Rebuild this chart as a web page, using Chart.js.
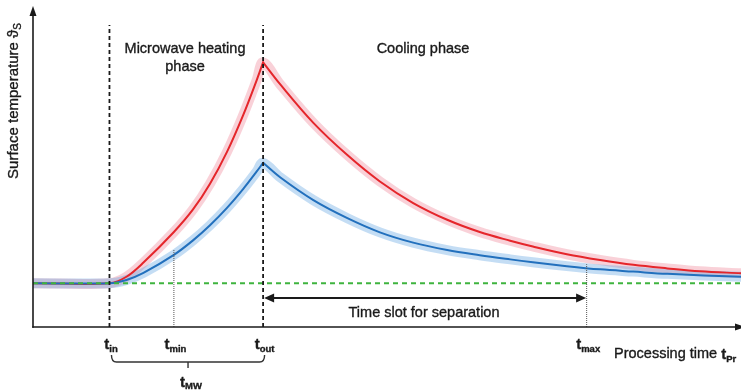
<!DOCTYPE html>
<html><head><meta charset="utf-8">
<script src="https://cdn.jsdelivr.net/npm/chart.js@4/dist/chart.umd.min.js"></script>
<style>html,body{margin:0;padding:0;background:#fff}#wrap{width:741px;height:391px;position:relative}</style>
</head><body><div id="wrap"><canvas id="c"></canvas></div>
<script>
// ---- data (arbitrary time / temperature units) ----
const tIn = 10.8, tMin = 19.9, tOut = 32.5, tMax = 78.2;
const baseline = 13.6;
const topOfMarkers = 93.8;
const arrowLevel = 9.0;

const redHeatX  = [0, 10.8, 13.2, 15.6, 19.9, 22.6, 25.0, 27.4, 29.7, 31.6, 32.5];
const redHeatY  = [13.6, 13.6, 15.6, 20.0, 29.5, 36.5, 44.5, 54.4, 65.9, 76.7, 82.2];
const redCoolX  = [32.5, 34.9, 39.6, 44.4, 49.0, 53.7, 58.5, 63.1, 67.4, 70.6, 75.4, 80.1, 84.8, 89.6, 94.2, 100];
const redCoolY  = [82.2, 75.4, 63.4, 53.4, 45.2, 38.5, 33.3, 29.5, 26.8, 25.0, 22.6, 20.8, 19.3, 18.2, 17.3, 16.7];

const blueHeatX = [0, 10.8, 13.2, 15.6, 19.9, 22.6, 25.0, 27.4, 29.7, 31.6, 32.5];
const blueHeatY = [13.6, 13.6, 14.6, 16.8, 22.4, 26.9, 31.6, 37.0, 42.9, 48.3, 51.0];
const blueCoolX = [32.5, 34.9, 39.6, 44.4, 49.0, 53.7, 58.5, 63.1, 67.4, 70.6, 75.4, 80.1, 84.8, 89.6, 100];
const blueCoolY = [51.0, 46.5, 39.4, 33.8, 29.4, 26.2, 23.9, 22.3, 21.0, 20.1, 18.9, 17.9, 17.2, 16.5, 15.6];

const tickLabels = [
  {t: tIn,  main: 't', sub: 'in'},
  {t: tMin, main: 't', sub: 'min'},
  {t: tOut, main: 't', sub: 'out'},
  {t: tMax, main: 't', sub: 'max'}
];

const zip = (xs, ys) => xs.map((v, i) => ({x: v, y: ys[i]}));
const cat = (a, b) => a.concat(b.slice(1));

const RED = '#e5262b', BLUE = '#2270bd';
const base = {pointRadius: 0, pointHoverRadius: 0, fill: false, borderJoinStyle: 'round', borderCapStyle: 'round'};

const datasets = [
  // bands
  {...base, data: zip(cat(redHeatX, redCoolX), cat(redHeatY, redCoolY)), borderColor: 'rgba(236,120,140,0.34)', borderWidth: 10, tension: 0.35, order: 7},
  {...base, data: zip(cat(blueHeatX, blueCoolX), cat(blueHeatY, blueCoolY)), borderColor: 'rgba(100,165,225,0.38)', borderWidth: 10, tension: 0.35, order: 6},
  // main curves
  {...base, data: zip(redHeatX, redHeatY), borderColor: RED, borderWidth: 2, tension: 0.35, order: 5},
  {...base, data: zip(redCoolX, redCoolY), borderColor: RED, borderWidth: 2, tension: 0.35, order: 5},
  {...base, data: zip(blueHeatX, blueHeatY), borderColor: BLUE, borderWidth: 2, tension: 0.35, order: 4},
  {...base, data: zip(blueCoolX, blueCoolY), borderColor: BLUE, borderWidth: 2, tension: 0.35, order: 4},
  // baseline
  {...base, borderCapStyle: 'butt', data: [{x: 0, y: baseline}, {x: 100, y: baseline}], borderColor: '#3fb43f', borderWidth: 2, borderDash: [5, 4], order: 3},
  // markers
  {...base, borderCapStyle: 'butt', data: [{x: tIn, y: 0}, {x: tIn, y: topOfMarkers}], borderColor: '#1a1a1a', borderWidth: 1.8, borderDash: [4, 3], order: 1},
  {...base, borderCapStyle: 'butt', data: [{x: tOut, y: 0}, {x: tOut, y: topOfMarkers}], borderColor: '#1a1a1a', borderWidth: 1.8, borderDash: [4, 3], order: 1},
  {...base, borderCapStyle: 'butt', data: [{x: tMin, y: 0}, {x: tMin, y: 23.9}], borderColor: '#555', borderWidth: 1, borderDash: [1, 1], order: 2},
  {...base, borderCapStyle: 'butt', data: [{x: tMax, y: 0}, {x: tMax, y: 19.5}], borderColor: '#555', borderWidth: 1, borderDash: [1, 1], order: 2},
  // separation arrow shaft
  {...base, borderCapStyle: 'butt', data: [{x: tOut + 1.2, y: arrowLevel}, {x: tMax - 1.2, y: arrowLevel}], borderColor: '#1a1a1a', borderWidth: 2, order: 0}
];

function head(ctx, tx, ty, dx, dy, len, hw) {
  const bx = tx - dx * len, by = ty - dy * len, nx = -dy, ny = dx;
  ctx.beginPath(); ctx.moveTo(tx, ty);
  ctx.lineTo(bx + nx * hw, by + ny * hw); ctx.lineTo(bx - nx * hw, by - ny * hw);
  ctx.closePath(); ctx.fill();
}
function txt(ctx, s, x, y) {
  ctx.fillText(s, x, y);
  ctx.strokeText(s, x, y);
}
function subText(ctx, cx, by, main, s, mf, sf, dy, align) {
  ctx.font = mf; const w1 = ctx.measureText(main).width;
  ctx.font = sf; const w2 = ctx.measureText(s).width;
  const x0 = align === 'left' ? cx : cx - (w1 + w2) / 2;
  ctx.font = mf; txt(ctx, main, x0, by);
  ctx.font = sf; txt(ctx, s, x0 + w1, by + dy);
  return w1 + w2;
}

const FONT = '"Liberation Sans", Arial, sans-serif';
const annot = {
  id: 'annot',
  afterDatasetsDraw(chart) {
    const {ctx, chartArea: a, scales: {x, y}} = chart;
    const px = v => x.getPixelForValue(v), py = v => y.getPixelForValue(v);
    ctx.save();
    ctx.strokeStyle = '#1a1a1a'; ctx.fillStyle = '#1a1a1a';
    const x0 = px(0), y0 = py(0);
    // axes
    ctx.lineWidth = 1.6;
    ctx.beginPath(); ctx.moveTo(x0, y0 + 0.8); ctx.lineTo(x0, a.top + 8); ctx.stroke();
    head(ctx, x0, a.top + 1, 0, -1, 10, 3.5);
    ctx.beginPath(); ctx.moveTo(x0 - 0.8, y0); ctx.lineTo(a.right - 4, y0); ctx.stroke();
    head(ctx, a.right + 4, y0, 1, 0, 10, 3.5);
    // separation arrow heads
    const ay = py(arrowLevel);
    head(ctx, px(tOut) + 1, ay, -1, 0, 10, 4.5);
    head(ctx, px(tMax) - 0.5, ay, 1, 0, 10, 4.5);

    // brace for t_MW
    const bl = px(tIn) + 2, br = px(tOut) + 1.5, bm = (bl + br) / 2, byy = y0 + 35;
    ctx.lineWidth = 1.4; ctx.strokeStyle = '#333';
    ctx.beginPath();
    ctx.moveTo(bl, byy - 7); ctx.quadraticCurveTo(bl, byy, bl + 5, byy);
    ctx.lineTo(br - 5, byy); ctx.quadraticCurveTo(br, byy, br, byy - 7);
    ctx.moveTo(bm, byy); ctx.lineTo(bm, byy + 6);
    ctx.stroke();

    ctx.textAlign = 'left'; ctx.textBaseline = 'alphabetic';
    ctx.strokeStyle = '#1a1a1a'; ctx.lineWidth = 0.35;
    // tick labels
    tickLabels.forEach(l => {
      subText(ctx, px(l.t) + 1.5, y0 + 22, l.main, l.sub, 'bold 15px ' + FONT, 'bold 9.5px ' + FONT, 3, 'center');
    });
    subText(ctx, bm + 3, y0 + 60, 't', 'MW', 'bold 15px ' + FONT, 'bold 9.5px ' + FONT, 2, 'center');

    // x axis title
    ctx.font = '14.5px ' + FONT;
    const w = ctx.measureText('Processing time ').width;
    txt(ctx, 'Processing time ', 614, y0 + 31);
    subText(ctx, 614 + w, y0 + 32, 't', 'Pr', 'bold 15px ' + FONT, 'bold 9.5px ' + FONT, 3, 'left');

    // phase labels
    ctx.textAlign = 'center';
    ctx.font = '14.5px ' + FONT;
    txt(ctx, 'Microwave heating', 185, 53);
    txt(ctx, 'phase', 185, 71);
    txt(ctx, 'Cooling phase', 423, 53);
    txt(ctx, 'Time slot for separation', 424, 317);

    // y axis title
    ctx.save();
    ctx.translate(13, 101); ctx.rotate(-Math.PI / 2);
    ctx.textAlign = 'left';
    ctx.font = '15px ' + FONT;
    const t1 = 'Surface temperature ϑ';
    const w1 = ctx.measureText(t1).width;
    ctx.font = '10px ' + FONT;
    const w2 = ctx.measureText('S').width;
    const sx = -(w1 + w2) / 2;
    ctx.font = '15px ' + FONT; txt(ctx, t1, sx, 5);
    ctx.font = '10px ' + FONT; txt(ctx, 'S', sx + w1, 8);
    ctx.restore();
    ctx.restore();
  }
};

new Chart(document.getElementById('c'), {
  type: 'line',
  data: {datasets},
  options: {
    responsive: true, maintainAspectRatio: false, animation: false,
    layout: {padding: {left: 33, right: 0, top: 5, bottom: 64}},
    scales: {
      x: {type: 'linear', min: 0, max: 100, display: false},
      y: {type: 'linear', min: 0, max: 100, display: false}
    },
    plugins: {legend: {display: false}, tooltip: {enabled: false}}
  },
  plugins: [annot]
});
</script></body></html>
